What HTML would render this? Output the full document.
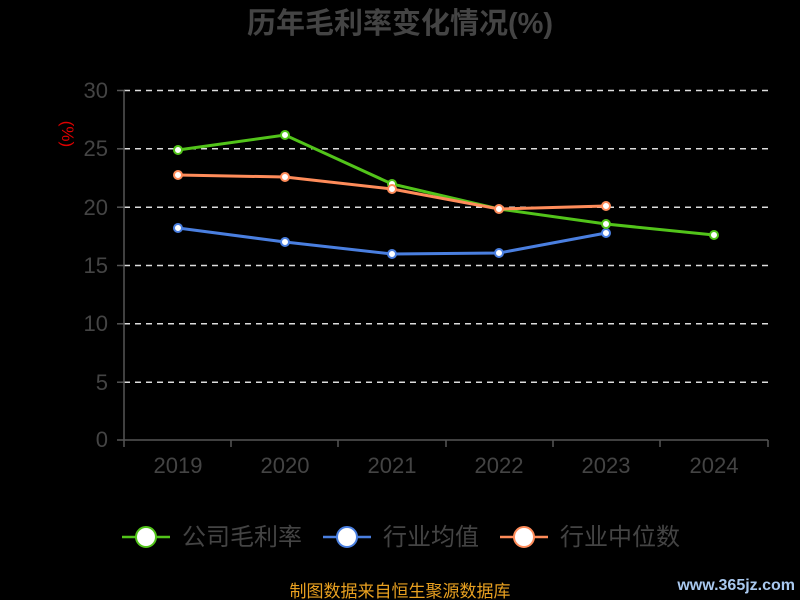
<!DOCTYPE html>
<html><head><meta charset="utf-8"><style>
body{margin:0;background:#000;}
svg{display:block;font-family:"Liberation Sans","Noto Sans CJK SC",sans-serif;}
</style></head><body>
<svg width="800" height="600" viewBox="0 0 800 600">
<rect width="800" height="600" fill="#000"/>
<text x="400" y="33" text-anchor="middle" font-size="29" font-weight="bold" fill="#444">历年毛利率变化情况(%)</text>
<text x="70" y="126" fill="#d00" font-size="17" transform="rotate(90 62 126)" text-anchor="middle">(%)</text>
<g stroke="#ddd" stroke-width="1.5" stroke-dasharray="6,5">
<line x1="124" y1="90.5" x2="768" y2="90.5"/>
<line x1="124" y1="148.8" x2="768" y2="148.8"/>
<line x1="124" y1="207.2" x2="768" y2="207.2"/>
<line x1="124" y1="265.5" x2="768" y2="265.5"/>
<line x1="124" y1="323.8" x2="768" y2="323.8"/>
<line x1="124" y1="382.2" x2="768" y2="382.2"/>
</g>
<g stroke="#555" stroke-width="1.5">
<line x1="124" y1="90" x2="124" y2="440"/>
<line x1="117" y1="90.5" x2="124" y2="90.5"/><line x1="117" y1="148.8" x2="124" y2="148.8"/><line x1="117" y1="207.2" x2="124" y2="207.2"/><line x1="117" y1="265.5" x2="124" y2="265.5"/><line x1="117" y1="323.8" x2="124" y2="323.8"/><line x1="117" y1="382.2" x2="124" y2="382.2"/><line x1="117" y1="440" x2="124" y2="440"/>
<line x1="124" y1="440" x2="768" y2="440"/>
<line x1="124" y1="440" x2="124" y2="447"/><line x1="231" y1="440" x2="231" y2="447"/><line x1="338" y1="440" x2="338" y2="447"/><line x1="446" y1="440" x2="446" y2="447"/><line x1="553" y1="440" x2="553" y2="447"/><line x1="660" y1="440" x2="660" y2="447"/><line x1="768" y1="440" x2="768" y2="447"/>
</g>
<g fill="#444" font-size="22" text-anchor="end">
<text x="108" y="98">30</text><text x="108" y="156">25</text><text x="108" y="215">20</text><text x="108" y="273">15</text><text x="108" y="331">10</text><text x="108" y="390">5</text><text x="108" y="447">0</text>
</g>
<g fill="#444" font-size="22" text-anchor="middle">
<text x="178" y="473">2019</text><text x="285" y="473">2020</text><text x="392" y="473">2021</text><text x="499" y="473">2022</text><text x="606" y="473">2023</text><text x="714" y="473">2024</text>
</g>
<g fill="none" stroke-width="3">
<polyline stroke="#4a7fe0" points="178,228 285,242 392,254 499,253 606,233"/>
<polyline stroke="#52c41a" points="178,150 285,135 392,184 499,209 606,224 714,235"/>
<polyline stroke="#ff8c5a" points="178,175 285,177 392,189 499,209 606,206"/>
</g>
<g fill="#fff" stroke-width="2">
<g stroke="#4a7fe0"><circle cx="178" cy="228" r="4"/><circle cx="285" cy="242" r="4"/><circle cx="392" cy="254" r="4"/><circle cx="499" cy="253" r="4"/><circle cx="606" cy="233" r="4"/></g>
<g stroke="#52c41a"><circle cx="178" cy="150" r="4"/><circle cx="285" cy="135" r="4"/><circle cx="392" cy="184" r="4"/><circle cx="606" cy="224" r="4"/><circle cx="714" cy="235" r="4"/></g>
<g stroke="#ff8c5a"><circle cx="178" cy="175" r="4"/><circle cx="285" cy="177" r="4"/><circle cx="392" cy="189" r="4"/><circle cx="499" cy="209" r="4"/><circle cx="606" cy="206" r="4"/></g>
</g>
<g font-size="24" fill="#444">
<line x1="122" y1="537" x2="170" y2="537" stroke="#52c41a" stroke-width="2.5"/><circle cx="146" cy="537" r="10" fill="#fff" stroke="#52c41a" stroke-width="2"/>
<text x="182" y="545">公司毛利率</text>
<line x1="323" y1="537" x2="371" y2="537" stroke="#4a7fe0" stroke-width="2.5"/><circle cx="347" cy="537" r="10" fill="#fff" stroke="#4a7fe0" stroke-width="2"/>
<text x="383" y="545">行业均值</text>
<line x1="500" y1="537" x2="548" y2="537" stroke="#ff8c5a" stroke-width="2.5"/><circle cx="524" cy="537" r="10" fill="#fff" stroke="#ff8c5a" stroke-width="2"/>
<text x="560" y="545">行业中位数</text>
</g>
<text x="400" y="597" text-anchor="middle" font-size="17" fill="#e8a020">制图数据来自恒生聚源数据库</text>
<text x="795" y="590" text-anchor="end" font-size="16" font-weight="bold" fill="#a9c8ee">www.365jz.com</text>
</svg>
</body></html>
